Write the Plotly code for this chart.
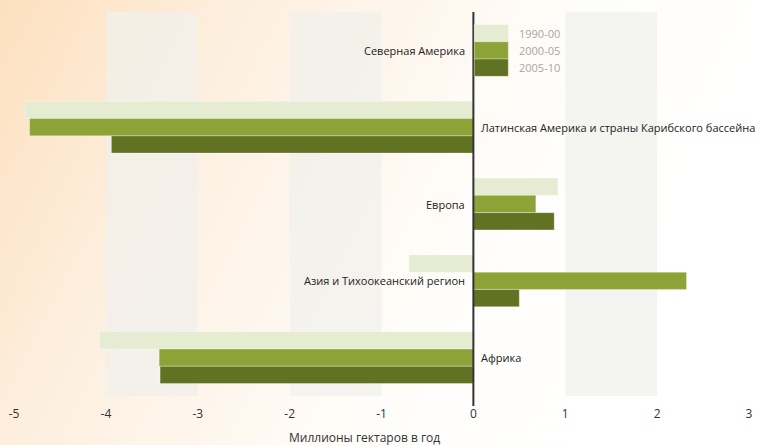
import base64
import plotly.graph_objects as go

# Net change in forest area by region, million hectares per year
regions = [
    "Северная Америка",
    "Латинская Америка и страны Карибского бассейна",
    "Европа",
    "Азия и Тихоокеанский регион",
    "Африка",
]
periods = ["1990-00", "2000-05", "2005-10"]
change_1990_00 = [0.0, -4.88, 0.92, -0.70, -4.07]
change_2000_05 = [0.0, -4.83, 0.68, 2.32, -3.42]
change_2005_10 = [0.0, -3.94, 0.88, 0.50, -3.41]
series = [change_1990_00, change_2000_05, change_2005_10]
colors = ["#e5ecd1", "#8da337", "#617323"]

x_ticks = [-5, -4, -3, -2, -1, 0, 1, 2, 3]
shaded_bands = [(-4, -3), (-2, -1), (1, 2)]

# label side: regions with net gain carry their label left of zero
label_right_of_zero = [False, True, False, False, True]

fig = go.Figure()
for name, vals, col in zip(periods, series, colors):
    fig.add_trace(go.Bar(
        y=regions, x=vals, name=name, orientation="h",
        marker=dict(color=col, line=dict(width=0.6, color="rgba(255,255,255,0.55)")),
        showlegend=False,
    ))

# warm background wash behind the whole figure
svg = (
    '<svg xmlns="http://www.w3.org/2000/svg" width="761" height="445" '
    'preserveAspectRatio="none" viewBox="0 0 761 445">'
    '<defs><linearGradient id="g" x1="0" y1="0" x2="1" y2="0.3">'
    '<stop offset="0" stop-color="#fde0be"/>'
    '<stop offset="0.3" stop-color="#fdefdf"/>'
    '<stop offset="0.7" stop-color="#fffdfa"/>'
    '<stop offset="1" stop-color="#ffffff"/>'
    '</linearGradient></defs>'
    '<rect width="761" height="445" fill="url(#g)"/></svg>'
)
src = "data:image/svg+xml;base64," + base64.b64encode(svg.encode()).decode()

W, H = 761, 445
ml, mr, mt, mb = 14, 12, 12, 49
pw, ph = W - ml - mr, H - mt - mb

shapes = []
for a, b in shaded_bands:
    shapes.append(dict(type="rect", xref="x", yref="paper", x0=a, x1=b, y0=0, y1=1,
                       fillcolor="rgba(240,240,236,0.73)", line=dict(width=0), layer="below"))
# zero line running down to the tick labels
shapes.append(dict(type="line", xref="x", yref="paper", x0=0, x1=0, y0=-10 / ph, y1=1,
                   line=dict(color="#333333", width=2)))

# legend swatches stacked beside the first region
bar_h = 0.225
for i, col in enumerate(colors):
    y0 = -1.5 * bar_h + i * bar_h
    shapes.append(dict(type="rect", xref="x", yref="y", x0=0.01, x1=0.38,
                       y0=y0, y1=y0 + bar_h, fillcolor=col,
                       line=dict(width=0.6, color="rgba(255,255,255,0.55)")))

annotations = []
for i, name in enumerate(periods):
    annotations.append(dict(x=0.48, y=-bar_h + i * bar_h, xref="x", yref="y",
                            text=name, showarrow=False, xanchor="left", yanchor="middle",
                            font=dict(size=11, color="#a6a6a6")))
for reg, right in zip(regions, label_right_of_zero):
    annotations.append(dict(x=0, y=reg, xref="x", yref="y", text=reg, showarrow=False,
                            xanchor="left" if right else "right", yanchor="middle",
                            xshift=6 if right else -6,
                            font=dict(size=11, color="#222222")))
annotations.append(dict(x=(364 - ml) / pw, y=(396 - 437) / ph, xref="paper", yref="paper",
                        text="Миллионы гектаров в год", showarrow=False,
                        xanchor="center", yanchor="middle",
                        font=dict(size=12, color="#333333")))

fig.update_layout(
    width=W, height=H,
    margin=dict(l=ml, r=mr, t=mt, b=mb, pad=0, autoexpand=False),
    paper_bgcolor="white",
    plot_bgcolor="rgba(255,255,255,0.7)",
    barmode="group", bargap=0.325, bargroupgap=0,
    font=dict(family="Open Sans, sans-serif", color="#333333"),
    shapes=shapes, annotations=annotations,
    images=[dict(source=src, xref="paper", yref="paper",
                 x=-ml / pw, y=1 + mt / ph, sizex=W / pw, sizey=H / ph,
                 sizing="stretch", xanchor="left", yanchor="top", layer="below")],
    xaxis=dict(range=[-5, 3], tickvals=x_ticks, ticktext=[str(v) for v in x_ticks],
               showgrid=False, zeroline=False, showline=False, ticks="",
               automargin=False,
               ticklabelstandoff=9, tickfont=dict(size=12, color="#333333")),
    yaxis=dict(autorange="reversed", showticklabels=False, showgrid=False,
               zeroline=False, showline=False, ticks="", automargin=False),
)

fig.write_html("out.html")
